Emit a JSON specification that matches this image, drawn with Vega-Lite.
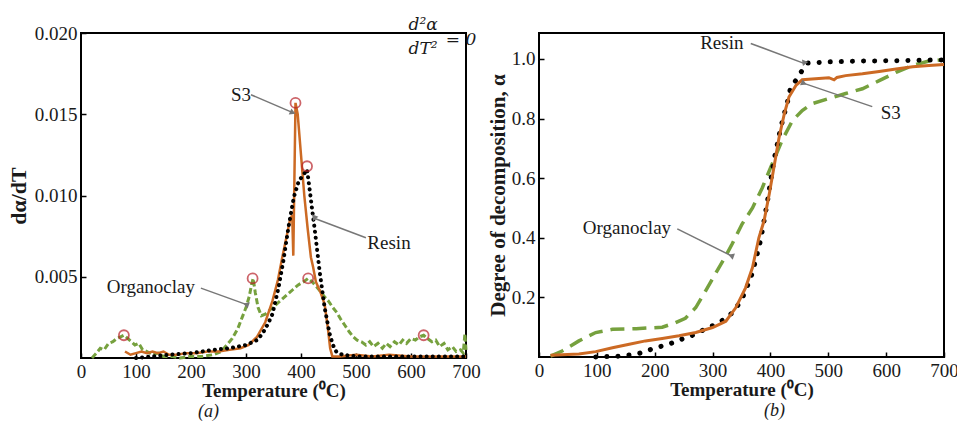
{
  "$schema": "https://vega.github.io/schema/vega-lite/v6.json",
  "background": "white",
  "padding": {"left": 6, "top": 14, "right": 0, "bottom": 0},
  "spacing": 4,
  "config": {
    "font": "Liberation Serif",
    "view": {"stroke": "black", "strokeWidth": 2},
    "axis": {
      "grid": false,
      "domain": false,
      "labelFont": "Liberation Serif",
      "labelFontSize": 19,
      "labelColor": "#1a1a1a",
      "labelFlush": false,
      "titleFont": "Liberation Serif",
      "titleFontSize": 19,
      "titleFontWeight": "bold",
      "titleColor": "#1a1a1a",
      "tickColor": "black",
      "tickWidth": 1.5,
      "tickSize": -5,
      "labelPadding": 9
    },
    "title": {"font": "Liberation Serif", "fontSize": 18, "fontStyle": "italic", "fontWeight": "normal", "color": "#1a1a1a", "orient": "bottom", "offset": 3}
  },
  "datasets": {
    "a": [
      {"s":"Organoclay","T":20,"v":0.0000},{"s":"Organoclay","T":28,"v":0.0003},{"s":"Organoclay","T":35,"v":0.0006},{"s":"Organoclay","T":42,"v":0.0005},{"s":"Organoclay","T":50,"v":0.0009},{"s":"Organoclay","T":58,"v":0.0010},{"s":"Organoclay","T":65,"v":0.0012},{"s":"Organoclay","T":72,"v":0.0013},{"s":"Organoclay","T":78,"v":0.0014},{"s":"Organoclay","T":85,"v":0.0012},{"s":"Organoclay","T":92,"v":0.0010},{"s":"Organoclay","T":98,"v":0.0008},{"s":"Organoclay","T":105,"v":0.0009},{"s":"Organoclay","T":112,"v":0.0005},{"s":"Organoclay","T":120,"v":0.0004},{"s":"Organoclay","T":130,"v":0.0002},{"s":"Organoclay","T":140,"v":0.0003},{"s":"Organoclay","T":150,"v":0.0001},{"s":"Organoclay","T":165,"v":0.0001},{"s":"Organoclay","T":180,"v":0.0000},{"s":"Organoclay","T":200,"v":0.0001},{"s":"Organoclay","T":220,"v":0.0001},{"s":"Organoclay","T":240,"v":0.0002},{"s":"Organoclay","T":255,"v":0.0004},{"s":"Organoclay","T":265,"v":0.0008},{"s":"Organoclay","T":275,"v":0.0012},{"s":"Organoclay","T":285,"v":0.0018},{"s":"Organoclay","T":293,"v":0.0025},{"s":"Organoclay","T":300,"v":0.0031},{"s":"Organoclay","T":306,"v":0.0038},{"s":"Organoclay","T":310,"v":0.0045},{"s":"Organoclay","T":313,"v":0.0049},{"s":"Organoclay","T":317,"v":0.0040},{"s":"Organoclay","T":322,"v":0.0031},{"s":"Organoclay","T":328,"v":0.0026},{"s":"Organoclay","T":335,"v":0.0027},{"s":"Organoclay","T":345,"v":0.0030},{"s":"Organoclay","T":355,"v":0.0033},{"s":"Organoclay","T":365,"v":0.0036},{"s":"Organoclay","T":375,"v":0.0039},{"s":"Organoclay","T":385,"v":0.0042},{"s":"Organoclay","T":395,"v":0.0045},{"s":"Organoclay","T":405,"v":0.0047},{"s":"Organoclay","T":413,"v":0.0049},{"s":"Organoclay","T":420,"v":0.0047},{"s":"Organoclay","T":428,"v":0.0044},{"s":"Organoclay","T":435,"v":0.0041},{"s":"Organoclay","T":442,"v":0.0038},{"s":"Organoclay","T":450,"v":0.0035},{"s":"Organoclay","T":458,"v":0.0031},{"s":"Organoclay","T":465,"v":0.0028},{"s":"Organoclay","T":472,"v":0.0024},{"s":"Organoclay","T":480,"v":0.0020},{"s":"Organoclay","T":488,"v":0.0016},{"s":"Organoclay","T":495,"v":0.0013},{"s":"Organoclay","T":502,"v":0.0011},{"s":"Organoclay","T":510,"v":0.0010},{"s":"Organoclay","T":518,"v":0.0008},{"s":"Organoclay","T":525,"v":0.0010},{"s":"Organoclay","T":532,"v":0.0007},{"s":"Organoclay","T":540,"v":0.0009},{"s":"Organoclay","T":548,"v":0.0006},{"s":"Organoclay","T":555,"v":0.0009},{"s":"Organoclay","T":562,"v":0.0007},{"s":"Organoclay","T":570,"v":0.0010},{"s":"Organoclay","T":578,"v":0.0008},{"s":"Organoclay","T":585,"v":0.0011},{"s":"Organoclay","T":592,"v":0.0009},{"s":"Organoclay","T":600,"v":0.0012},{"s":"Organoclay","T":608,"v":0.0011},{"s":"Organoclay","T":615,"v":0.0013},{"s":"Organoclay","T":623,"v":0.0014},{"s":"Organoclay","T":630,"v":0.0012},{"s":"Organoclay","T":638,"v":0.0010},{"s":"Organoclay","T":645,"v":0.0011},{"s":"Organoclay","T":652,"v":0.0007},{"s":"Organoclay","T":660,"v":0.0009},{"s":"Organoclay","T":667,"v":0.0005},{"s":"Organoclay","T":675,"v":0.0007},{"s":"Organoclay","T":682,"v":0.0004},{"s":"Organoclay","T":690,"v":0.0005},{"s":"Organoclay","T":695,"v":0.0003},{"s":"Organoclay","T":698,"v":0.0015},{"s":"Organoclay","T":700,"v":0.0005},
      {"s":"S3","T":80,"v":0.0004},{"s":"S3","T":90,"v":0.0002},{"s":"S3","T":100,"v":0.0003},{"s":"S3","T":110,"v":0.0004},{"s":"S3","T":120,"v":0.0003},{"s":"S3","T":130,"v":0.0004},{"s":"S3","T":140,"v":0.0003},{"s":"S3","T":150,"v":0.0004},{"s":"S3","T":160,"v":0.0002},{"s":"S3","T":175,"v":0.0002},{"s":"S3","T":190,"v":0.0003},{"s":"S3","T":210,"v":0.0003},{"s":"S3","T":230,"v":0.0004},{"s":"S3","T":250,"v":0.0004},{"s":"S3","T":270,"v":0.0005},{"s":"S3","T":290,"v":0.0006},{"s":"S3","T":305,"v":0.0008},{"s":"S3","T":320,"v":0.0013},{"s":"S3","T":335,"v":0.0022},{"s":"S3","T":348,"v":0.0035},{"s":"S3","T":358,"v":0.0048},{"s":"S3","T":366,"v":0.0062},{"s":"S3","T":374,"v":0.0075},{"s":"S3","T":380,"v":0.0085},{"s":"S3","T":384,"v":0.0088},{"s":"S3","T":386,"v":0.0063},{"s":"S3","T":388,"v":0.0110},{"s":"S3","T":390,"v":0.0157},{"s":"S3","T":394,"v":0.0150},{"s":"S3","T":400,"v":0.0125},{"s":"S3","T":406,"v":0.0100},{"s":"S3","T":412,"v":0.0080},{"s":"S3","T":418,"v":0.0062},{"s":"S3","T":422,"v":0.0056},{"s":"S3","T":427,"v":0.0047},{"s":"S3","T":436,"v":0.0040},{"s":"S3","T":443,"v":0.0033},{"s":"S3","T":449,"v":0.0018},{"s":"S3","T":453,"v":0.0006},{"s":"S3","T":457,"v":0.0001},{"s":"S3","T":470,"v":0.0001},{"s":"S3","T":500,"v":0.0002},{"s":"S3","T":530,"v":0.0001},{"s":"S3","T":560,"v":0.0002},{"s":"S3","T":600,"v":0.0001},{"s":"S3","T":650,"v":0.0001},{"s":"S3","T":700,"v":0.0001},
      {"s":"Resin","T":100,"v":0.0000},{"s":"Resin","T":130,"v":0.0001},{"s":"Resin","T":160,"v":0.0002},{"s":"Resin","T":200,"v":0.0003},{"s":"Resin","T":240,"v":0.0005},{"s":"Resin","T":270,"v":0.0006},{"s":"Resin","T":300,"v":0.0008},{"s":"Resin","T":320,"v":0.0011},{"s":"Resin","T":330,"v":0.0015},{"s":"Resin","T":340,"v":0.0021},{"s":"Resin","T":348,"v":0.0027},{"s":"Resin","T":359,"v":0.0043},{"s":"Resin","T":368,"v":0.0060},{"s":"Resin","T":377,"v":0.0080},{"s":"Resin","T":387,"v":0.0099},{"s":"Resin","T":396,"v":0.0109},{"s":"Resin","T":405,"v":0.0113},{"s":"Resin","T":411,"v":0.0116},{"s":"Resin","T":416,"v":0.0103},{"s":"Resin","T":420,"v":0.0092},{"s":"Resin","T":425,"v":0.0079},{"s":"Resin","T":434,"v":0.0053},{"s":"Resin","T":443,"v":0.0031},{"s":"Resin","T":452,"v":0.0015},{"s":"Resin","T":458,"v":0.0008},{"s":"Resin","T":464,"v":0.0004},{"s":"Resin","T":475,"v":0.0002},{"s":"Resin","T":500,"v":0.0001},{"s":"Resin","T":600,"v":0.0001},{"s":"Resin","T":700,"v":0.0001}
    ],
    "b": [
      {"s":"Organoclay","T":20,"v":0.003},{"s":"Organoclay","T":40,"v":0.02},{"s":"Organoclay","T":69,"v":0.054},{"s":"Organoclay","T":98,"v":0.082},{"s":"Organoclay","T":127,"v":0.093},{"s":"Organoclay","T":168,"v":0.095},{"s":"Organoclay","T":213,"v":0.1},{"s":"Organoclay","T":236,"v":0.115},{"s":"Organoclay","T":253,"v":0.13},{"s":"Organoclay","T":271,"v":0.166},{"s":"Organoclay","T":288,"v":0.222},{"s":"Organoclay","T":306,"v":0.283},{"s":"Organoclay","T":323,"v":0.34},{"s":"Organoclay","T":334,"v":0.38},{"s":"Organoclay","T":351,"v":0.446},{"s":"Organoclay","T":369,"v":0.5},{"s":"Organoclay","T":386,"v":0.568},{"s":"Organoclay","T":403,"v":0.648},{"s":"Organoclay","T":420,"v":0.726},{"s":"Organoclay","T":438,"v":0.793},{"s":"Organoclay","T":455,"v":0.827},{"s":"Organoclay","T":472,"v":0.85},{"s":"Organoclay","T":501,"v":0.867},{"s":"Organoclay","T":530,"v":0.884},{"s":"Organoclay","T":559,"v":0.9},{"s":"Organoclay","T":588,"v":0.927},{"s":"Organoclay","T":617,"v":0.955},{"s":"Organoclay","T":646,"v":0.978},{"s":"Organoclay","T":674,"v":0.993},{"s":"Organoclay","T":697,"v":0.997},
      {"s":"S3","T":20,"v":0.006},{"s":"S3","T":69,"v":0.01},{"s":"S3","T":98,"v":0.018},{"s":"S3","T":127,"v":0.031},{"s":"S3","T":156,"v":0.043},{"s":"S3","T":184,"v":0.054},{"s":"S3","T":213,"v":0.062},{"s":"S3","T":242,"v":0.071},{"s":"S3","T":271,"v":0.082},{"s":"S3","T":300,"v":0.099},{"s":"S3","T":323,"v":0.12},{"s":"S3","T":340,"v":0.165},{"s":"S3","T":357,"v":0.232},{"s":"S3","T":369,"v":0.3},{"s":"S3","T":380,"v":0.4},{"s":"S3","T":389,"v":0.457},{"s":"S3","T":398,"v":0.547},{"s":"S3","T":406,"v":0.636},{"s":"S3","T":415,"v":0.737},{"s":"S3","T":424,"v":0.816},{"s":"S3","T":432,"v":0.872},{"s":"S3","T":444,"v":0.911},{"s":"S3","T":455,"v":0.93},{"s":"S3","T":472,"v":0.933},{"s":"S3","T":501,"v":0.937},{"s":"S3","T":510,"v":0.93},{"s":"S3","T":515,"v":0.938},{"s":"S3","T":530,"v":0.944},{"s":"S3","T":559,"v":0.95},{"s":"S3","T":588,"v":0.958},{"s":"S3","T":617,"v":0.966},{"s":"S3","T":646,"v":0.974},{"s":"S3","T":674,"v":0.978},{"s":"S3","T":700,"v":0.981},
      {"s":"Resin","T":98,"v":0.0},{"s":"Resin","T":138,"v":0.003},{"s":"Resin","T":170,"v":0.01},{"s":"Resin","T":194,"v":0.026},{"s":"Resin","T":213,"v":0.037},{"s":"Resin","T":230,"v":0.047},{"s":"Resin","T":247,"v":0.06},{"s":"Resin","T":271,"v":0.077},{"s":"Resin","T":288,"v":0.095},{"s":"Resin","T":306,"v":0.11},{"s":"Resin","T":323,"v":0.13},{"s":"Resin","T":335,"v":0.15},{"s":"Resin","T":349,"v":0.188},{"s":"Resin","T":357,"v":0.222},{"s":"Resin","T":369,"v":0.283},{"s":"Resin","T":377,"v":0.345},{"s":"Resin","T":383,"v":0.392},{"s":"Resin","T":389,"v":0.457},{"s":"Resin","T":395,"v":0.524},{"s":"Resin","T":400,"v":0.586},{"s":"Resin","T":406,"v":0.659},{"s":"Resin","T":412,"v":0.715},{"s":"Resin","T":418,"v":0.771},{"s":"Resin","T":424,"v":0.816},{"s":"Resin","T":430,"v":0.86},{"s":"Resin","T":435,"v":0.905},{"s":"Resin","T":444,"v":0.928},{"s":"Resin","T":453,"v":0.956},{"s":"Resin","T":464,"v":0.986},{"s":"Resin","T":500,"v":0.99},{"s":"Resin","T":560,"v":0.993},{"s":"Resin","T":620,"v":0.994},{"s":"Resin","T":700,"v":0.997}
    ],
    "circles": [
      {"T":78,"v":0.0014},{"T":312,"v":0.0049},{"T":390,"v":0.0157},{"T":411,"v":0.0118},{"T":413,"v":0.0049},{"T":623,"v":0.0014}
    ],
    "labelsA": [
      {"label":"S3","T":291,"v":0.0162},{"label":"Resin","T":560,"v":0.0071},{"label":"Organoclay","T":127,"v":0.0044}
    ],
    "arrowsA": [
      {"label":"S3","T":309,"v":0.0162,"T2":385,"v2":0.0151},
      {"label":"Resin","T":518,"v":0.0074,"T2":424,"v2":0.0086},
      {"label":"Organoclay","T":218,"v":0.0043,"T2":300,"v2":0.0033}
    ],
    "eqn": [
      {"label":"d²α","T":622,"v":0.0205},{"label":"dT²","T":622,"v":0.0190},{"label":"= 0","T":691,"v":0.01955}
    ],
    "labelsB": [
      {"label":"Resin","T":316,"v":1.052},{"label":"S3","T":608,"v":0.82},{"label":"Organoclay","T":152,"v":0.434}
    ],
    "arrowsB": [
      {"label":"Resin","T":366,"v":1.052,"T2":458,"v2":0.985},
      {"label":"S3","T":576,"v":0.84,"T2":458,"v2":0.918},
      {"label":"Organoclay","T":239,"v":0.43,"T2":332,"v2":0.34}
    ]
  },
  "hconcat": [
    {
      "width": 385,
      "height": 325,
      "title": {"text": "(a)", "dx": -65},
      "encoding": {
        "x": {"field": "T", "type": "quantitative", "scale": {"domain": [0, 700], "nice": false}, "axis": {"values": [0,100,200,300,400,500,600,700], "title": "Temperature (⁰C)", "titlePadding": 0}},
        "y": {"field": "v", "type": "quantitative", "scale": {"domain": [0, 0.02], "nice": false}, "axis": {"values": [0.005,0.01,0.015,0.02], "format": ".3f", "title": "dα/dT", "titleFontSize": 22, "titlePadding": 4}}
      },
      "layer": [
        {"data": {"name": "a"}, "transform": [{"filter": "datum.s === 'Organoclay'"}], "mark": {"type": "line", "color": "#76a13e", "strokeWidth": 3, "strokeDash": [6, 3]}},
        {"data": {"name": "a"}, "transform": [{"filter": "datum.s === 'S3'"}], "mark": {"type": "line", "color": "#cc6a24", "strokeWidth": 2.5}},
        {"data": {"name": "a"}, "transform": [{"filter": "datum.s === 'Resin'"}], "mark": {"type": "line", "color": "black", "strokeWidth": 4, "strokeDash": [0.1, 6], "strokeCap": "round"}},
        {"data": {"name": "circles"}, "mark": {"type": "point", "shape": "circle", "filled": false, "stroke": "#b8232a", "strokeWidth": 1.8, "size": 100}},
        {"data": {"name": "arrowsA"}, "mark": {"type": "rule", "color": "#777777", "strokeWidth": 1.5}, "encoding": {"x2": {"field": "T2"}, "y2": {"field": "v2"}}},
        {"data": {"name": "arrowsA"}, "mark": {"type": "point", "shape": "triangle-right", "filled": true, "color": "#777777", "size": 45, "opacity": 1}, "encoding": {"x": {"field": "T2", "type": "quantitative"}, "y": {"field": "v2", "type": "quantitative"}, "angle": {"field": "label", "type": "nominal", "scale": {"domain": ["S3","Resin","Organoclay"], "range": [23, 200, 20]}, "legend": null}}},
        {"data": {"name": "labelsA"}, "mark": {"type": "text", "font": "Liberation Serif", "fontSize": 19, "color": "#1a1a1a", "align": "center", "baseline": "middle"}, "encoding": {"text": {"field": "label"}}},
        {"data": {"name": "eqn"}, "mark": {"type": "text", "font": "DejaVu Serif", "fontStyle": "italic", "fontSize": 17, "color": "#1a1a1a", "align": "center", "baseline": "middle"}, "encoding": {"text": {"field": "label"}}}
      ]
    },
    {
      "width": 405,
      "height": 324,
      "title": {"text": "(b)", "dx": 33},
      "encoding": {
        "x": {"field": "T", "type": "quantitative", "scale": {"domain": [0, 700], "nice": false}, "axis": {"values": [0,100,200,300,400,500,600,700], "title": "Temperature (⁰C)", "titlePadding": 0}},
        "y": {"field": "v", "type": "quantitative", "scale": {"domain": [0, 1.087], "nice": false}, "axis": {"values": [0.2,0.4,0.6,0.8,1.0], "format": ".1f", "title": "Degree of decomposition, α", "titleFontSize": 21, "titlePadding": 3}}
      },
      "layer": [
        {"data": {"name": "b"}, "transform": [{"filter": "datum.s === 'Organoclay'"}], "mark": {"type": "line", "color": "#76a13e", "strokeWidth": 3.5, "strokeDash": [14, 8]}},
        {"data": {"name": "b"}, "transform": [{"filter": "datum.s === 'Resin'"}], "mark": {"type": "line", "color": "black", "strokeWidth": 5, "strokeDash": [0.1, 11], "strokeCap": "round"}},
        {"data": {"name": "b"}, "transform": [{"filter": "datum.s === 'S3'"}], "mark": {"type": "line", "color": "#cc6a24", "strokeWidth": 3}},
        {"data": {"name": "arrowsB"}, "mark": {"type": "rule", "color": "#777777", "strokeWidth": 1.5}, "encoding": {"x2": {"field": "T2"}, "y2": {"field": "v2"}}},
        {"data": {"name": "arrowsB"}, "mark": {"type": "point", "shape": "triangle-right", "filled": true, "color": "#777777", "size": 45, "opacity": 1}, "encoding": {"x": {"field": "T2", "type": "quantitative"}, "y": {"field": "v2", "type": "quantitative"}, "angle": {"field": "label", "type": "nominal", "scale": {"domain": ["Resin","S3","Organoclay"], "range": [21, 199, 27]}, "legend": null}}},
        {"data": {"name": "labelsB"}, "mark": {"type": "text", "font": "Liberation Serif", "fontSize": 19, "color": "#1a1a1a", "align": "center", "baseline": "middle"}, "encoding": {"text": {"field": "label"}}}
      ]
    }
  ]
}
